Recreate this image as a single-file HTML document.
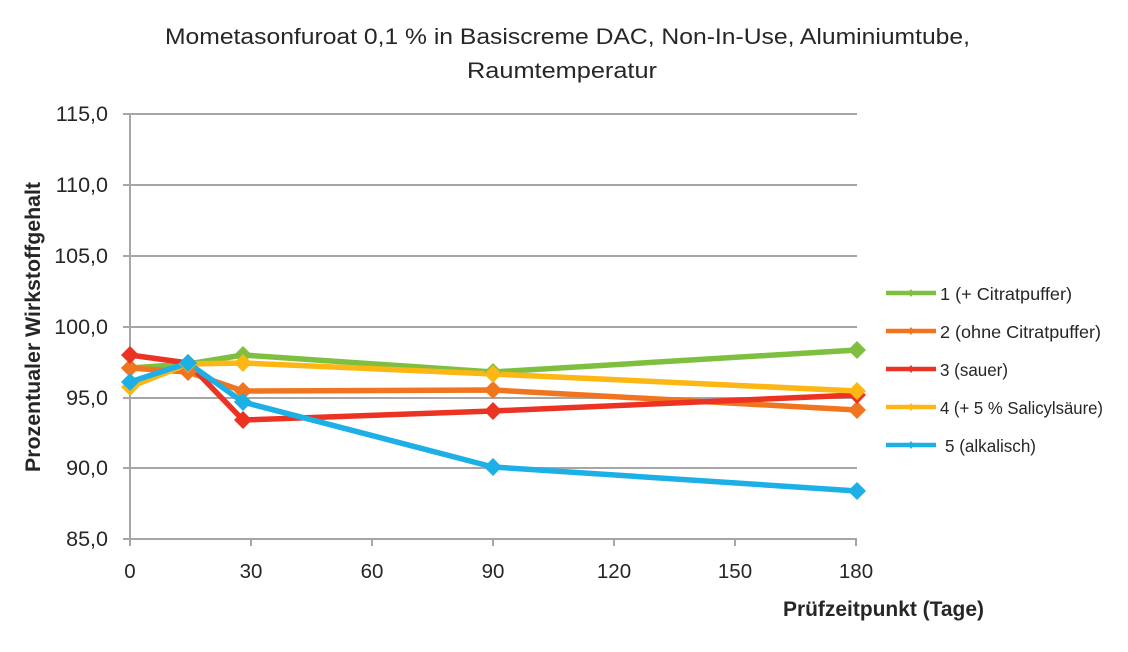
<!DOCTYPE html>
<html>
<head>
<meta charset="utf-8">
<style>
  html,body{margin:0;padding:0;background:#fff;}
  svg{display:block;}
  text{font-family:"Liberation Sans", sans-serif;fill:#262626;}
</style>
</head>
<body>
<svg width="1128" height="652" viewBox="0 0 1128 652" xmlns="http://www.w3.org/2000/svg">
  <rect width="1128" height="652" fill="#fff"/>
  <!-- Title -->
  <text x="165" y="44" font-size="22" textLength="805" lengthAdjust="spacingAndGlyphs">Mometasonfuroat 0,1 % in Basiscreme DAC, Non-In-Use, Aluminiumtube,</text>
  <text x="467" y="78" font-size="22" textLength="190" lengthAdjust="spacingAndGlyphs">Raumtemperatur</text>

  <!-- Gridlines -->
  <g stroke="#a6a6a6" stroke-width="2">
    <line x1="123" y1="114" x2="857" y2="114"/>
    <line x1="123" y1="185" x2="857" y2="185"/>
    <line x1="123" y1="256" x2="857" y2="256"/>
    <line x1="123" y1="327" x2="857" y2="327"/>
    <line x1="123" y1="398" x2="857" y2="398"/>
    <line x1="123" y1="468" x2="857" y2="468"/>
    <line x1="123" y1="539" x2="857" y2="539"/>
    <line x1="130" y1="114" x2="130" y2="546"/>
    <line x1="251" y1="539" x2="251" y2="546"/>
    <line x1="372" y1="539" x2="372" y2="546"/>
    <line x1="493" y1="539" x2="493" y2="546"/>
    <line x1="614" y1="539" x2="614" y2="546"/>
    <line x1="735" y1="539" x2="735" y2="546"/>
    <line x1="856" y1="539" x2="856" y2="546"/>
  </g>

  <!-- Y tick labels -->
  <g font-size="21.5" text-anchor="end">
    <text x="108" y="121">115,0</text>
    <text x="108" y="192">110,0</text>
    <text x="108" y="263">105,0</text>
    <text x="108" y="334">100,0</text>
    <text x="108" y="405">95,0</text>
    <text x="108" y="475">90,0</text>
    <text x="108" y="546">85,0</text>
  </g>
  <!-- X tick labels -->
  <g font-size="20.5" text-anchor="middle">
    <text x="130" y="578">0</text>
    <text x="251" y="578">30</text>
    <text x="372" y="578">60</text>
    <text x="493" y="578">90</text>
    <text x="614" y="578">120</text>
    <text x="735" y="578">150</text>
    <text x="856" y="578">180</text>
  </g>

  <!-- Axis titles -->
  <text x="783" y="616" font-size="21" font-weight="bold" textLength="201" lengthAdjust="spacingAndGlyphs">Prüfzeitpunkt (Tage)</text>
  <text transform="translate(40,327) rotate(-90)" font-size="21" font-weight="bold" text-anchor="middle" textLength="290" lengthAdjust="spacingAndGlyphs">Prozentualer Wirkstoffgehalt</text>

  <!-- Series -->
  <g fill="none" stroke-width="5.5" stroke-linejoin="round">
    <polyline stroke="#7fbf3f" points="130,368 188,364 243,355 493,372 857,350"/>
    <polyline stroke="#f0751e" points="130,368 188,372 243,391 493,390 857,410"/>
    <polyline stroke="#ec3323" points="130,355 188,363 243,420 493,411 857,395"/>
    <polyline stroke="#fdb714" points="130,387 188,364 243,363 493,374 857,391"/>
    <polyline stroke="#1cb0e6" points="130,382 188,363 243,402 493,467 857,491"/>
  </g>
  <!-- Markers -->
  <g fill="#7fbf3f">
    <path d="M130,359 l9,9 l-9,9 l-9,-9z"/>
    <path d="M188,355 l9,9 l-9,9 l-9,-9z"/>
    <path d="M243,346 l9,9 l-9,9 l-9,-9z"/>
    <path d="M493,363 l9,9 l-9,9 l-9,-9z"/>
    <path d="M857,341 l9,9 l-9,9 l-9,-9z"/>
  </g>
  <g fill="#f0751e">
    <path d="M130,359 l9,9 l-9,9 l-9,-9z"/>
    <path d="M188,363 l9,9 l-9,9 l-9,-9z"/>
    <path d="M243,382 l9,9 l-9,9 l-9,-9z"/>
    <path d="M493,381 l9,9 l-9,9 l-9,-9z"/>
    <path d="M857,401 l9,9 l-9,9 l-9,-9z"/>
  </g>
  <g fill="#ec3323">
    <path d="M130,346 l9,9 l-9,9 l-9,-9z"/>
    <path d="M188,354 l9,9 l-9,9 l-9,-9z"/>
    <path d="M243,411 l9,9 l-9,9 l-9,-9z"/>
    <path d="M493,402 l9,9 l-9,9 l-9,-9z"/>
    <path d="M857,386 l9,9 l-9,9 l-9,-9z"/>
  </g>
  <g fill="#fdb714">
    <path d="M130,378 l9,9 l-9,9 l-9,-9z"/>
    <path d="M188,355 l9,9 l-9,9 l-9,-9z"/>
    <path d="M243,354 l9,9 l-9,9 l-9,-9z"/>
    <path d="M493,365 l9,9 l-9,9 l-9,-9z"/>
    <path d="M857,382 l9,9 l-9,9 l-9,-9z"/>
  </g>
  <g fill="#1cb0e6">
    <path d="M130,373 l9,9 l-9,9 l-9,-9z"/>
    <path d="M188,354 l9,9 l-9,9 l-9,-9z"/>
    <path d="M243,393 l9,9 l-9,9 l-9,-9z"/>
    <path d="M493,458 l9,9 l-9,9 l-9,-9z"/>
    <path d="M857,482 l9,9 l-9,9 l-9,-9z"/>
  </g>

  <!-- Legend -->
  <g stroke-width="4.5">
    <line x1="886" y1="293" x2="936" y2="293" stroke="#7fbf3f"/>
    <line x1="886" y1="331" x2="936" y2="331" stroke="#f0751e"/>
    <line x1="886" y1="369" x2="936" y2="369" stroke="#ec3323"/>
    <line x1="886" y1="407" x2="936" y2="407" stroke="#fdb714"/>
    <line x1="886" y1="445" x2="936" y2="445" stroke="#1cb0e6"/>
  </g>
  <g>
    <path d="M911,289 l3,4 l-3,4 l-3,-4z" fill="#7fbf3f"/>
    <path d="M911,327 l3,4 l-3,4 l-3,-4z" fill="#f0751e"/>
    <path d="M911,365 l3,4 l-3,4 l-3,-4z" fill="#ec3323"/>
    <path d="M911,403 l3,4 l-3,4 l-3,-4z" fill="#fdb714"/>
    <path d="M911,441 l3,4 l-3,4 l-3,-4z" fill="#1cb0e6"/>
  </g>
  <g font-size="17.5">
    <text x="940" y="300" textLength="132" lengthAdjust="spacingAndGlyphs">1 (+ Citratpuffer)</text>
    <text x="940" y="338" textLength="161" lengthAdjust="spacingAndGlyphs">2 (ohne Citratpuffer)</text>
    <text x="940" y="376" textLength="68" lengthAdjust="spacingAndGlyphs">3 (sauer)</text>
    <text x="940" y="414" textLength="163" lengthAdjust="spacingAndGlyphs">4 (+ 5 % Salicylsäure)</text>
    <text x="945" y="452" textLength="91" lengthAdjust="spacingAndGlyphs">5 (alkalisch)</text>
  </g>
</svg>
</body>
</html>
